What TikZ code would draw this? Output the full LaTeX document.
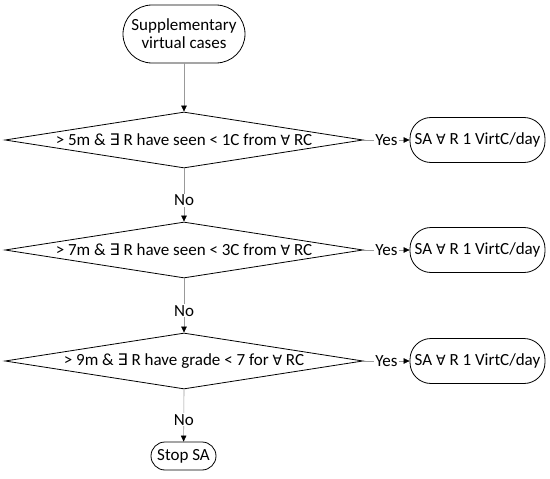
\documentclass[tikz,border=0pt]{standalone}
\usepackage{fontspec}
\setmainfont{Carlito}
\newfontfamily\symf{DejaVu Sans}
\usetikzlibrary{shapes.geometric,arrows.meta}
\newcommand{\ex}{{\symf\fontsize{16}{18}\selectfont ∃}}
\newcommand{\fa}{{\symf\fontsize{14}{18}\selectfont ∀}}
\tikzset{
  txt/.style={font=\fontsize{17}{19}\selectfont},
  term/.style={draw=black, line width=0.8pt, rounded corners=#1, inner sep=0pt, txt},
  dec/.style={draw=black, line width=0.8pt, shape=diamond, minimum width=358pt, minimum height=56pt, inner sep=0pt},
  conn/.style={draw=black!40, line width=0.6pt, -{Triangle[length=6pt,width=5.5pt,color=black]}},
  lab/.style={fill=white, inner sep=1pt, txt}
}
\begin{document}
\begin{tikzpicture}[x=1pt,y=-1pt]
\useasboundingbox (0,0) rectangle (550,479);
\node[term=29pt, minimum width=122pt, minimum height=58pt, align=center] (start) at (184,34) {Supplementary\\[-1pt]virtual cases};
\node[dec] (d1) at (184,140) {};
\node[txt] (t1) at (d1.center) {> 5m \& \ex{} R have seen < 1C from \fa{} RC};
\node[dec] (d2) at (184,250) {};
\node[txt] (t2) at (d2.center) {> 7m \& \ex{} R have seen < 3C from \fa{} RC};
\node[dec] (d3) at (184,361) {};
\node[txt] (t3) at (d3.center) {> 9m \& \ex{} R have grade < 7 for \fa{} RC};
\node[term=21pt, minimum width=135pt, minimum height=45pt] (y1) at (477.5,140) {SA \fa{} R 1 VirtC/day};
\node[term=21pt, minimum width=135pt, minimum height=45pt] (y2) at (477.5,250) {SA \fa{} R 1 VirtC/day};
\node[term=21pt, minimum width=135pt, minimum height=45pt] (y3) at (477.5,361) {SA \fa{} R 1 VirtC/day};
\node[term=14pt, minimum width=65pt, minimum height=28pt] (stop) at (183.5,456) {Stop SA};
\draw[conn] (start) -- (d1.north);
\draw[conn] (d1.south) -- node[lab, pos=0.6] {No} (d2.north);
\draw[conn] (d2.south) -- node[lab, pos=0.6] {No} (d3.north);
\draw[conn] (d3.south) -- node[lab, pos=0.58] {No} (stop);
\draw[conn] (d1.east) -- node[lab] {Yes} (y1);
\draw[conn] (d2.east) -- node[lab] {Yes} (y2);
\draw[conn] (d3.east) -- node[lab] {Yes} (y3);
\end{tikzpicture}
\end{document}
